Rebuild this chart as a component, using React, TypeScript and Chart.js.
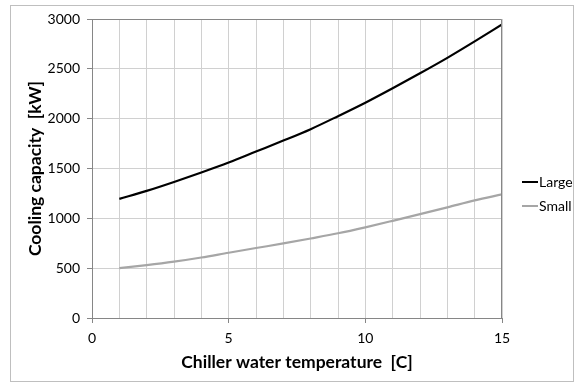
import React, { useEffect, useRef } from "react";
import { Chart, registerables } from "chart.js";

Chart.register(...registerables);

const temperatures = [1, 2, 3, 4, 5, 6, 7, 8, 9, 10, 11, 12, 13, 14, 15];
const largeCapacity = [1195, 1275, 1365, 1460, 1560, 1670, 1780, 1895, 2025, 2160, 2305, 2455, 2610, 2775, 2945];
const smallCapacity = [500, 530, 565, 607, 655, 702, 748, 798, 850, 910, 975, 1042, 1110, 1180, 1240];
const seriesNames = ["Large", "Small"];
const seriesColors = ["#000000", "#a6a6a6"];
const xTitle = "Chiller water temperature  [C]";
const yTitle = "Cooling capacity  [kW]";

const FONT = "Lato, 'Open Sans', sans-serif";

const decorPlugin = {
  id: "decor",
  beforeDraw(chart: any) {
    const ctx = chart.ctx;
    ctx.save();
    ctx.fillStyle = "#ffffff";
    ctx.fillRect(0, 0, chart.width, chart.height);
    ctx.strokeStyle = "#bfbfbf";
    ctx.lineWidth = 1;
    ctx.strokeRect(10.5, 5.5, 563, 376);
    ctx.restore();
  },
  afterDraw(chart: any) {
    const ctx = chart.ctx;
    const a = chart.chartArea;
    ctx.save();
    ctx.strokeStyle = "#868686";
    ctx.lineWidth = 1;
    ctx.beginPath();
    ctx.moveTo(Math.round(a.left) + 0.5, Math.round(a.top) + 0.5);
    ctx.lineTo(Math.round(a.right) - 0.5, Math.round(a.top) + 0.5);
    ctx.lineTo(Math.round(a.right) - 0.5, Math.round(a.bottom));
    ctx.stroke();
    // legend
    const lx = a.right + 20;
    const ys = [182, 206];
    ctx.font = "14px " + FONT;
    ctx.textBaseline = "middle";
    ctx.textAlign = "left";
    seriesNames.forEach((name, i) => {
      ctx.strokeStyle = seriesColors[i];
      ctx.lineWidth = 2;
      ctx.beginPath();
      ctx.moveTo(lx, ys[i]);
      ctx.lineTo(lx + 16, ys[i]);
      ctx.stroke();
      ctx.fillStyle = "#000000";
      ctx.fillText(name, lx + 17, ys[i]);
    });
    ctx.restore();
  },
};

export default function App() {
  const ref = useRef<HTMLCanvasElement | null>(null);
  useEffect(() => {
    if (!ref.current) return;
    const chart = new Chart(ref.current, {
      type: "line",
      data: {
        datasets: [
          {
            label: seriesNames[0],
            data: temperatures.map((t, i) => ({ x: t, y: largeCapacity[i] })),
            borderColor: seriesColors[0],
            borderWidth: 2.2,
            pointRadius: 0,
            cubicInterpolationMode: "monotone",
          },
          {
            label: seriesNames[1],
            data: temperatures.map((t, i) => ({ x: t, y: smallCapacity[i] })),
            borderColor: seriesColors[1],
            borderWidth: 2.2,
            pointRadius: 0,
            cubicInterpolationMode: "monotone",
          },
        ],
      },
      options: {
        responsive: false,
        animation: false,
        layout: { padding: { left: 10, top: 19, right: 72, bottom: 0 } },
        plugins: { legend: { display: false }, tooltip: { enabled: false } },
        scales: {
          x: {
            type: "linear",
            min: 0,
            max: 15,
            afterFit: (s: any) => {
              s.height = 65;
            },
            ticks: {
              stepSize: 1,
              autoSkip: false,
              maxRotation: 0,
              padding: 7,
              color: "#000000",
              font: { family: FONT, size: 14 },
              callback: (v: any) => (Number(v) % 5 === 0 ? String(v) : ""),
            },
            grid: {
              color: "#d0d0d0",
              lineWidth: 1,
              tickLength: 5,
              tickColor: (c: any) =>
                c.tick && c.tick.value % 5 === 0 ? "#868686" : "rgba(0,0,0,0)",
            },
            border: { color: "#868686", width: 1 },
            title: {
              display: true,
              text: xTitle,
              color: "#000000",
              font: { family: FONT, size: 17.5, weight: "bold" },
              padding: { top: 0, bottom: 10.5 },
            },
          },
          y: {
            min: 0,
            max: 3000,
            afterFit: (s: any) => {
              s.width = 82;
            },
            ticks: {
              stepSize: 500,
              padding: 7,
              color: "#000000",
              font: { family: FONT, size: 14 },
              callback: (v: any) => String(v),
            },
            grid: { color: "#d0d0d0", lineWidth: 1, tickLength: 5, tickColor: "#868686" },
            border: { color: "#868686", width: 1 },
            title: {
              display: true,
              text: yTitle,
              color: "#000000",
              font: { family: FONT, size: 17.5, weight: "bold" },
              padding: { top: 15, bottom: 0 },
            },
          },
        },
      },
      plugins: [decorPlugin],
    } as any);
    return () => chart.destroy();
  }, []);
  return (
    <div style={{ position: "absolute", left: 0, top: 0, width: 574, height: 383 }}>
      <canvas ref={ref} width={574} height={383} style={{ display: "block" }} />
    </div>
  );
}
